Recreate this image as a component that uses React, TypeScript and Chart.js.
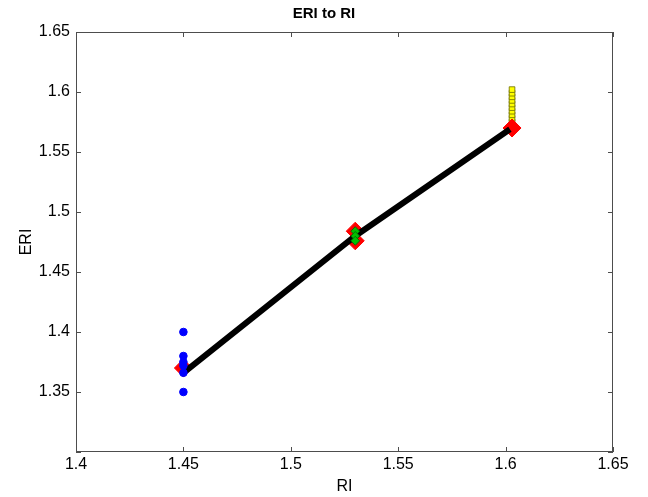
import React, { useEffect, useRef } from "react";
import { Chart, registerables } from "chart.js";

Chart.register(...registerables);

const xTicks = [1.4, 1.45, 1.5, 1.55, 1.6, 1.65];
const yTicks = [1.3, 1.35, 1.4, 1.45, 1.5, 1.55, 1.6, 1.65];

const blueX = [1.45, 1.45, 1.45, 1.45, 1.45, 1.45];
const blueY = [1.4, 1.38, 1.375, 1.372, 1.366, 1.35];

const redX = [1.45, 1.53, 1.53, 1.603];
const redY = [1.37, 1.484, 1.476, 1.57];

const greenX = [1.53, 1.53, 1.53];
const greenY = [1.484, 1.48, 1.476];

const yellowX = [1.603, 1.603, 1.603, 1.603, 1.603, 1.603, 1.603, 1.603, 1.603, 1.603, 1.603];
const yellowY = [1.572, 1.575, 1.578, 1.581, 1.584, 1.587, 1.59, 1.593, 1.596, 1.599, 1.602];

const fitX = [1.45, 1.53, 1.602];
const fitY = [1.366, 1.48, 1.569];

const pts = (xs: number[], ys: number[]) => xs.map((x, i) => ({ x, y: ys[i] }));
const fmt = (v: number) => String(Number(v.toFixed(2)));

const AXIS_COLOR = "#4d4d4d";

const boxPlugin = {
  id: "matlabBox",
  afterDraw(chart: any) {
    const { ctx, chartArea, scales } = chart;
    const { left, right, top, bottom } = chartArea;
    ctx.save();
    ctx.strokeStyle = AXIS_COLOR;
    ctx.lineWidth = 1;
    ctx.strokeRect(left + 0.5, top + 0.5, right - left - 1, bottom - top - 1);
    const tl = 5;
    ctx.beginPath();
    xTicks.forEach((v) => {
      const px = Math.round(scales.x.getPixelForValue(v)) + 0.5;
      ctx.moveTo(px, bottom);
      ctx.lineTo(px, bottom - tl);
      ctx.moveTo(px, top);
      ctx.lineTo(px, top + tl);
    });
    yTicks.forEach((v) => {
      const py = Math.round(scales.y.getPixelForValue(v)) + 0.5;
      ctx.moveTo(left, py);
      ctx.lineTo(left + tl, py);
      ctx.moveTo(right, py);
      ctx.lineTo(right - tl, py);
    });
    ctx.stroke();
    ctx.restore();
  },
};

export default function App() {
  const ref = useRef<HTMLCanvasElement | null>(null);
  useEffect(() => {
    if (!ref.current) return;
    const font = "'Liberation Sans', Arial, Helvetica, sans-serif";
    const chart = new Chart(ref.current, {
      type: "scatter",
      data: {
        datasets: [
          {
            label: "yellow",
            data: pts(yellowX, yellowY),
            pointStyle: "rect",
            pointRadius: 4,
            backgroundColor: "#ffff00",
            borderColor: "#6b6b00",
            borderWidth: 0.8,
            order: 5,
          } as any,
          {
            label: "fit",
            type: "line",
            data: pts(fitX, fitY),
            borderColor: "#000000",
            borderWidth: 6,
            pointRadius: 0,
            showLine: true,
            tension: 0,
            order: 3,
          } as any,
          {
            label: "red",
            data: pts(redX, redY),
            pointStyle: "rectRot",
            pointRadius: 9,
            backgroundColor: "#ff0000",
            borderColor: "#ff0000",
            borderWidth: 1,
            order: 4,
          } as any,
          {
            label: "green",
            data: pts(greenX, greenY),
            pointStyle: "rectRot",
            pointRadius: 4.5,
            backgroundColor: "#00c000",
            borderColor: "#006000",
            borderWidth: 0.8,
            order: 2,
          } as any,
          {
            label: "blue",
            data: pts(blueX, blueY),
            pointStyle: "circle",
            pointRadius: 3.8,
            backgroundColor: "#0000ff",
            borderColor: "#0000ff",
            borderWidth: 1,
            order: 1,
          } as any,
        ],
      },
      options: {
        animation: false,
        responsive: false,
        maintainAspectRatio: false,
        layout: { padding: { left: 0, right: 0, top: 0, bottom: 0 } },
        plugins: {
          legend: { display: false },
          tooltip: { enabled: false },
          title: {
            display: true,
            text: "ERI to RI",
            color: "#000000",
            font: { family: font, size: 15, weight: "bold" },
            padding: { top: 5, bottom: 9 },
          },
        },
        scales: {
          x: {
            type: "linear",
            min: 1.4,
            max: 1.65,
            afterBuildTicks: (s: any) => {
              s.ticks = xTicks.map((v) => ({ value: v }));
            },
            afterFit: (s: any) => {
              s.height = 45;
            },
            grid: { display: false, drawTicks: false },
            border: { display: false },
            ticks: {
              color: "#000000",
              font: { family: font, size: 16 },
              padding: 3,
              maxRotation: 0,
              callback: (v: any) => fmt(Number(v)),
            },
            title: {
              display: true,
              text: "RI",
              color: "#000000",
              font: { family: font, size: 16 },
              padding: { top: 0, bottom: 1 },
            },
          },
          y: {
            type: "linear",
            min: 1.3,
            max: 1.65,
            afterBuildTicks: (s: any) => {
              s.ticks = yTicks.map((v) => ({ value: v }));
            },
            afterFit: (s: any) => {
              s.width = 76;
            },
            grid: { display: false, drawTicks: false },
            border: { display: false },
            ticks: {
              color: "#000000",
              font: { family: font, size: 16 },
              padding: 6,
              callback: (v: any) => (Math.abs(Number(v) - 1.3) < 1e-9 ? "" : fmt(Number(v))),
            },
            title: {
              display: true,
              text: "ERI",
              color: "#000000",
              font: { family: font, size: 16 },
              padding: { top: 17, bottom: 0 },
            },
          },
          yRight: {
            type: "linear",
            position: "right",
            min: 1.3,
            max: 1.65,
            afterFit: (s: any) => {
              s.width = 35;
            },
            grid: { display: false, drawTicks: false },
            border: { display: false },
            ticks: { display: false },
          },
        },
      } as any,
      plugins: [boxPlugin],
    });
    return () => chart.destroy();
  }, []);
  return (
    <div style={{ position: "fixed", left: 0, top: 0, width: 648, height: 497, background: "#ffffff" }}>
      <canvas ref={ref} width={648} height={497} style={{ width: 648, height: 497 }} />
    </div>
  );
}
